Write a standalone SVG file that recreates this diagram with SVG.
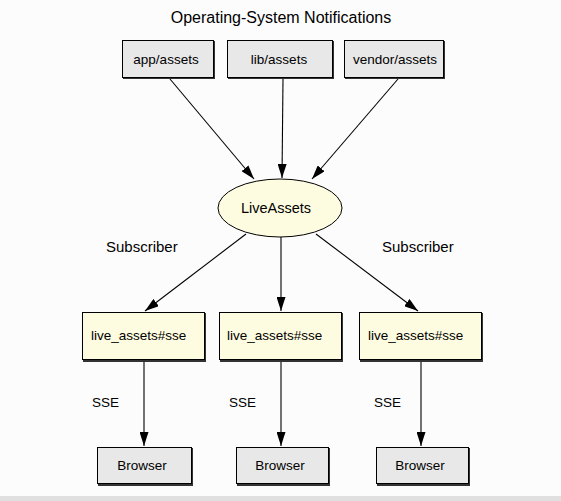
<svg xmlns="http://www.w3.org/2000/svg" width="561" height="501" viewBox="0 0 561 501">
<style>
text{font-family:"Liberation Sans",Arial,sans-serif;font-size:13.5px;fill:#000}
.title{font-size:16px}
.lbl{font-size:15px}
.sse{font-size:13.5px}
.big{font-size:14.5px}
.c{text-anchor:middle}
.gray{fill:#e8e8e8;stroke:#000;stroke-width:1}
.yel{fill:#fefce0;stroke:#000;stroke-width:1}
.sh{fill:#333}
.edge{stroke:#000;stroke-width:1.1;fill:none;marker-end:url(#ah)}
</style>
<defs>
<marker id="ah" viewBox="0 0 14 9" refX="14" refY="4.5" markerWidth="14" markerHeight="9" markerUnits="userSpaceOnUse" orient="auto">
<path d="M0,0 L14,4.5 L0,9 Z" fill="#000"/>
</marker>
</defs>
<rect width="561" height="501" fill="#fcfcfc"/>
<rect x="0" y="496" width="561" height="5" fill="#e0e0e0"/>
<text class="title c" x="281" y="23">Operating-System Notifications</text>

<g id="connectors">
<line class="edge" x1="170" y1="79" x2="254" y2="179"/>
<line class="edge" x1="283" y1="79" x2="282" y2="178"/>
<line class="edge" x1="398" y1="79" x2="312" y2="179"/>
<line class="edge" x1="246" y1="234" x2="145" y2="311"/>
<line class="edge" x1="281" y1="237" x2="281" y2="311"/>
<line class="edge" x1="316" y1="234" x2="418" y2="311"/>
<line class="edge" x1="144" y1="360" x2="144" y2="446"/>
<line class="edge" x1="281" y1="360" x2="281" y2="446"/>
<line class="edge" x1="421" y1="360" x2="421" y2="446"/>
<text class="lbl" x="106" y="252">Subscriber</text>
<text class="lbl" x="382" y="252">Subscriber</text>
<text class="sse" x="92" y="407">SSE</text>
<text class="sse" x="229" y="407">SSE</text>
<text class="sse" x="374" y="407">SSE</text>
</g>

<g id="app-assets">
<rect class="sh" x="123" y="41" width="92" height="38"/>
<rect class="gray" x="122.5" y="40.5" width="91" height="37"/>
<text class="c" x="166" y="64">app/assets</text>
</g>
<g id="lib-assets">
<rect class="sh" x="228" y="41" width="106" height="38"/>
<rect class="gray" x="227.5" y="40.5" width="105" height="37"/>
<text class="c" x="279" y="64">lib/assets</text>
</g>
<g id="vendor-assets">
<rect class="sh" x="345" y="41" width="100" height="38"/>
<rect class="gray" x="344.5" y="40.5" width="99" height="37"/>
<text class="c" x="395" y="64">vendor/assets</text>
</g>

<g id="liveassets">
<ellipse cx="280" cy="208" rx="62" ry="29" class="yel"/>
<text class="big c" x="276" y="213">LiveAssets</text>
</g>

<g id="sse1">
<rect class="sh" x="83" y="313" width="123" height="49"/>
<rect class="yel" x="82.5" y="312.5" width="122" height="47"/>
<text x="91" y="340">live_assets#sse</text>
</g>
<g id="sse2">
<rect class="sh" x="220" y="313" width="123" height="49"/>
<rect class="yel" x="219.5" y="312.5" width="122" height="47"/>
<text x="227" y="340">live_assets#sse</text>
</g>
<g id="sse3">
<rect class="sh" x="360" y="313" width="123" height="49"/>
<rect class="yel" x="359.5" y="312.5" width="122" height="47"/>
<text x="368" y="340">live_assets#sse</text>
</g>

<g id="browser1">
<rect class="sh" x="98" y="448" width="95" height="38"/>
<rect class="gray" x="97.5" y="447.5" width="94" height="36"/>
<text class="c" x="142" y="470">Browser</text>
</g>
<g id="browser2">
<rect class="sh" x="237" y="448" width="93" height="38"/>
<rect class="gray" x="236.5" y="447.5" width="92" height="36"/>
<text class="c" x="280" y="470">Browser</text>
</g>
<g id="browser3">
<rect class="sh" x="377" y="448" width="93" height="38"/>
<rect class="gray" x="376.5" y="447.5" width="92" height="36"/>
<text class="c" x="420" y="470">Browser</text>
</g>
</svg>
